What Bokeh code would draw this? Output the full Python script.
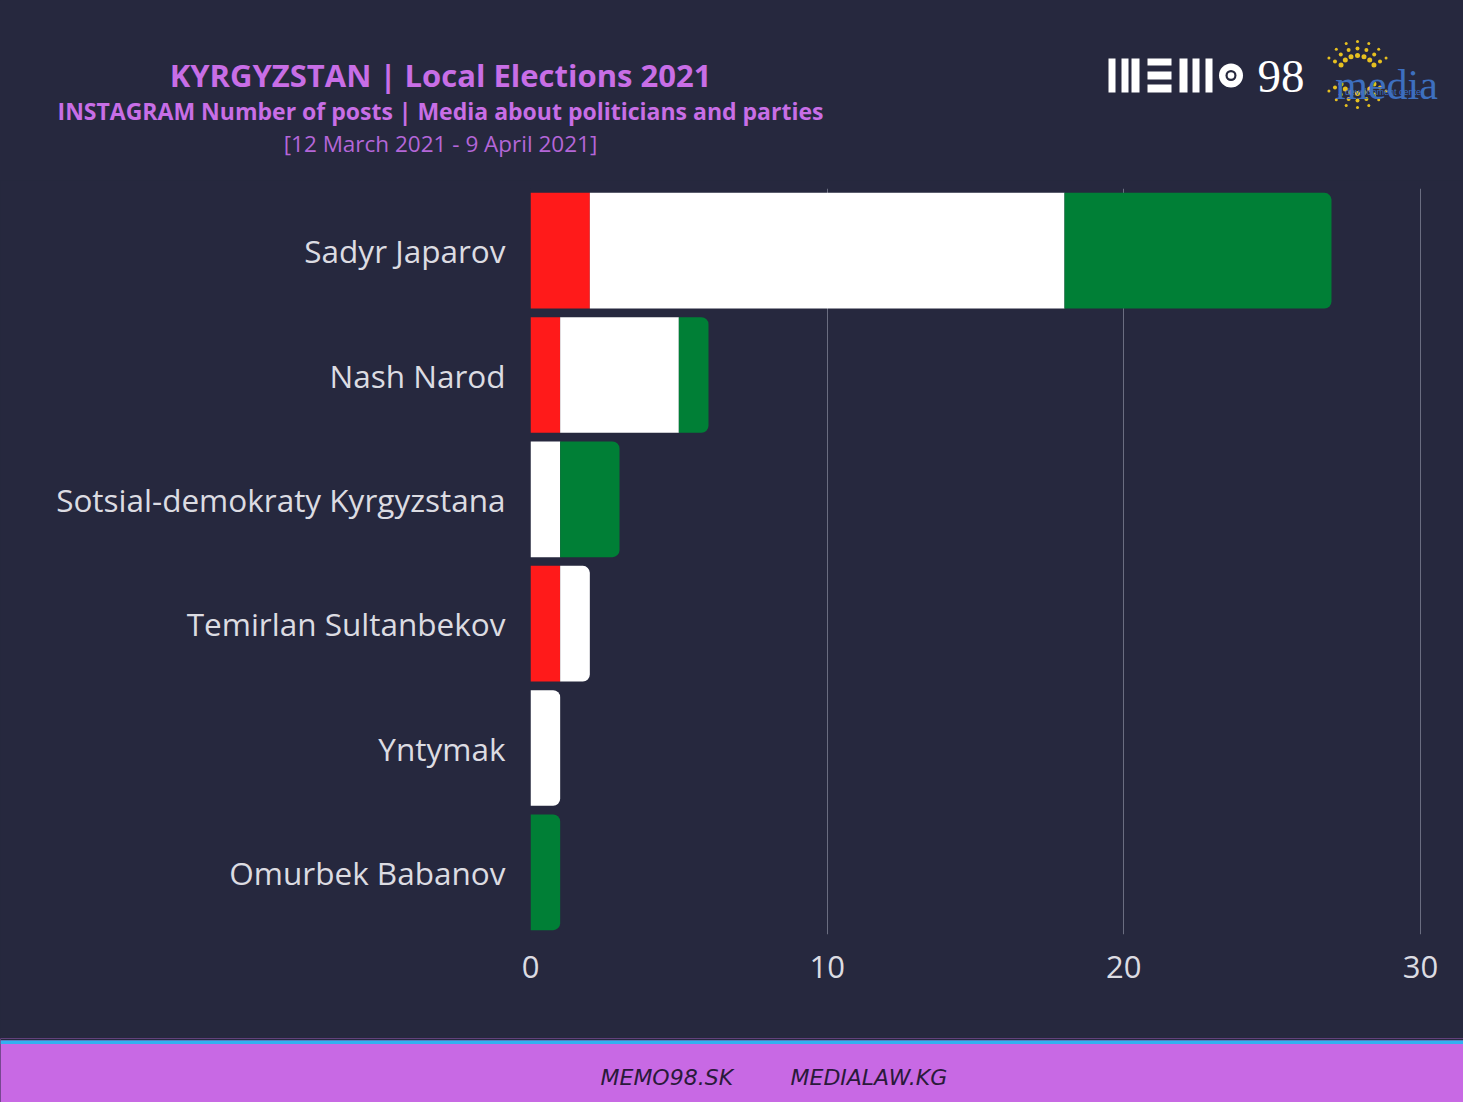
from bokeh.plotting import figure
from bokeh.layouts import column
from bokeh.models import Range1d, FactorRange, FixedTicker, ColumnDataSource
from bokeh.core.properties import value
from bokeh.embed import file_html
from bokeh.resources import INLINE
import math

# ---------------- data ----------------
categories = ["Sadyr Japarov", "Nash Narod", "Sotsial-demokraty Kyrgyzstana",
              "Temirlan Sultanbekov", "Yntymak", "Omurbek Babanov"]
negative = [2, 1, 0, 1, 0, 0]
neutral = [16, 4, 1, 1, 1, 0]
positive = [9, 1, 2, 0, 0, 1]
series_colors = ["#ff1a1a", "#ffffff", "#007f36"]
x_ticks = [0, 10, 20, 30]

title_text = "KYRGYZSTAN | Local Elections 2021"
subtitle_text = "INSTAGRAM Number of posts | Media about politicians and parties"
date_text = "[12 March 2021 - 9 April 2021]"
footer_texts = ["MEMO98.SK", "MEDIALAW.KG"]

BG = "#26283e"
PURPLE = "#c86ee6"
FOOT = "#c869e4"
W = 1463

# ---------------- header ----------------
hdr = figure(width=W, height=180, output_backend="svg", toolbar_location=None,
             x_range=Range1d(0, W), y_range=Range1d(180, 0),
             x_axis_location=None, y_axis_location=None,
             min_border=0, outline_line_color=None, frame_align=False,
             background_fill_color=BG, border_fill_color=BG)
hdr.grid.visible = False
hdr.text(x=[440], y=[74], text=[title_text], text_align="center", text_baseline="middle",
         text_font=value("Open Sans"), text_font_style="bold", text_font_size="31px",
         text_color=PURPLE)
hdr.text(x=[440], y=[110], text=[subtitle_text], text_align="center", text_baseline="middle",
         text_font=value("Open Sans"), text_font_style="bold", text_font_size="23px",
         text_color=PURPLE)
hdr.text(x=[440], y=[143], text=[date_text], text_align="center", text_baseline="middle",
         text_font=value("Open Sans"), text_font_size="22.5px", text_color="#b466d8")

# MEMO98 logo
vb_l = [1108, 1121, 1131, 1179, 1192, 1205]
vb_r = [1115, 1128, 1139, 1187, 1199, 1212]
hdr.quad(left=vb_l, right=vb_r, top=[58] * 6, bottom=[92] * 6, color="white", line_color=None)
hdr.quad(left=[1147] * 3, right=[1171] * 3, top=[58, 71, 84], bottom=[65, 79, 92],
         color="white", line_color=None)
hdr.circle(x=[1230.5], y=[75], radius=12, color="white", line_color=None)
hdr.circle(x=[1230.5], y=[75], radius=5.5, color=BG, line_color=None)
hdr.circle(x=[1230.5], y=[75], radius=3.3, color="white", line_color=None)
hdr.text(x=[1257], y=[76], text=["98"], text_align="left", text_baseline="middle",
         text_font=value("Liberation Sans Narrow"), text_font_size="47px", text_color="white")

# media logo
dx, dy, ds = [], [], []
for r, s in [(19, 5), (26, 4), (33, 3)]:
    for k in range(18):
        a = math.radians(k * 20 + 10)
        if abs(math.sin(a)) < 0.45:
            continue
        dx.append(1357 + r * math.cos(a))
        dy.append(74 - r * math.sin(a))
        ds.append(s)
hdr.scatter(x=dx, y=dy, size=ds, color="#e6c020", line_color=None)
hdr.text(x=[1386], y=[84], text=["media"], text_align="center", text_baseline="alphabetic",
         text_font=value("Liberation Serif"), text_font_size="42px", text_color="#3d6fbf")
hdr.text(x=[1384], y=[91], text=["development center"], text_align="center", text_baseline="middle",
         text_font=value("Liberation Sans"), text_font_size="9px", text_color="#3d6fbf")

# ---------------- main chart ----------------
p = figure(width=W, height=858, output_backend="svg", toolbar_location=None,
           y_range=FactorRange(factors=list(reversed(categories))),
           x_range=Range1d(0, 31.45), frame_align=False,
           min_border_left=530, min_border_right=0, min_border_top=8, min_border_bottom=104,
           outline_line_color=None, background_fill_color=BG, border_fill_color=BG)

series = [negative, neutral, positive]
segs = {k: dict(y=[], left=[], right=[], color=[]) for k in ("square", "round")}
for i, cat in enumerate(categories):
    vals = [s[i] for s in series]
    nz = [j for j, v in enumerate(vals) if v > 0]
    last = nz[-1] if nz else -1
    start = 0
    for j, v in enumerate(vals):
        if v <= 0:
            continue
        key = "round" if j == last else "square"
        segs[key]["y"].append(cat)
        segs[key]["left"].append(start)
        segs[key]["right"].append(start + v)
        segs[key]["color"].append(series_colors[j])
        start += v

p.hbar(y="y", left="left", right="right", height=0.93, color="color", line_color=None,
       source=ColumnDataSource(segs["square"]))
p.hbar(y="y", left="left", right="right", height=0.93, color="color", line_color=None,
       border_radius=(0, 7, 7, 0), source=ColumnDataSource(segs["round"]))

p.xgrid.ticker = FixedTicker(ticks=x_ticks)
p.xgrid.grid_line_color = "#6a6d80"
p.xgrid.grid_line_width = 1
p.ygrid.visible = False

p.xaxis.ticker = FixedTicker(ticks=x_ticks)
for ax in (p.xaxis, p.yaxis):
    ax.axis_line_color = None
    ax.major_tick_line_color = None
    ax.minor_tick_line_color = None
    ax.major_tick_out = 0
    ax.major_tick_in = 0
    ax.major_label_text_font = "Open Sans"
    ax.major_label_text_color = "#dcdce2"
p.xaxis.major_label_text_font_size = "31px"
p.xaxis.major_label_standoff = 21
p.yaxis.major_label_text_font_size = "31.5px"
p.yaxis.major_label_standoff = 25

# ---------------- footer ----------------
ftr = figure(width=W, height=64, output_backend="svg", toolbar_location=None,
             x_range=Range1d(0, W), y_range=Range1d(64, 0),
             x_axis_location=None, y_axis_location=None,
             min_border=0, outline_line_color=None, frame_align=False,
             background_fill_color=FOOT, border_fill_color=FOOT)
ftr.grid.visible = False
ftr.quad(left=[0], right=[W], top=[0], bottom=[2], color=BG, line_color=None)
ftr.quad(left=[0], right=[W], top=[2], bottom=[5.5], color="#33b0f0", line_color=None)
ftr.text(x=[600, 790], y=[39, 39], text=footer_texts, text_align="left", text_baseline="middle",
         text_font=value("DejaVu Sans"), text_font_style="italic", text_font_size="22px",
         text_color="#2a1a3a")

layout = column(hdr, p, ftr, spacing=0, styles={"background-color": BG})
open("out.html", "w").write(file_html(layout, INLINE))
